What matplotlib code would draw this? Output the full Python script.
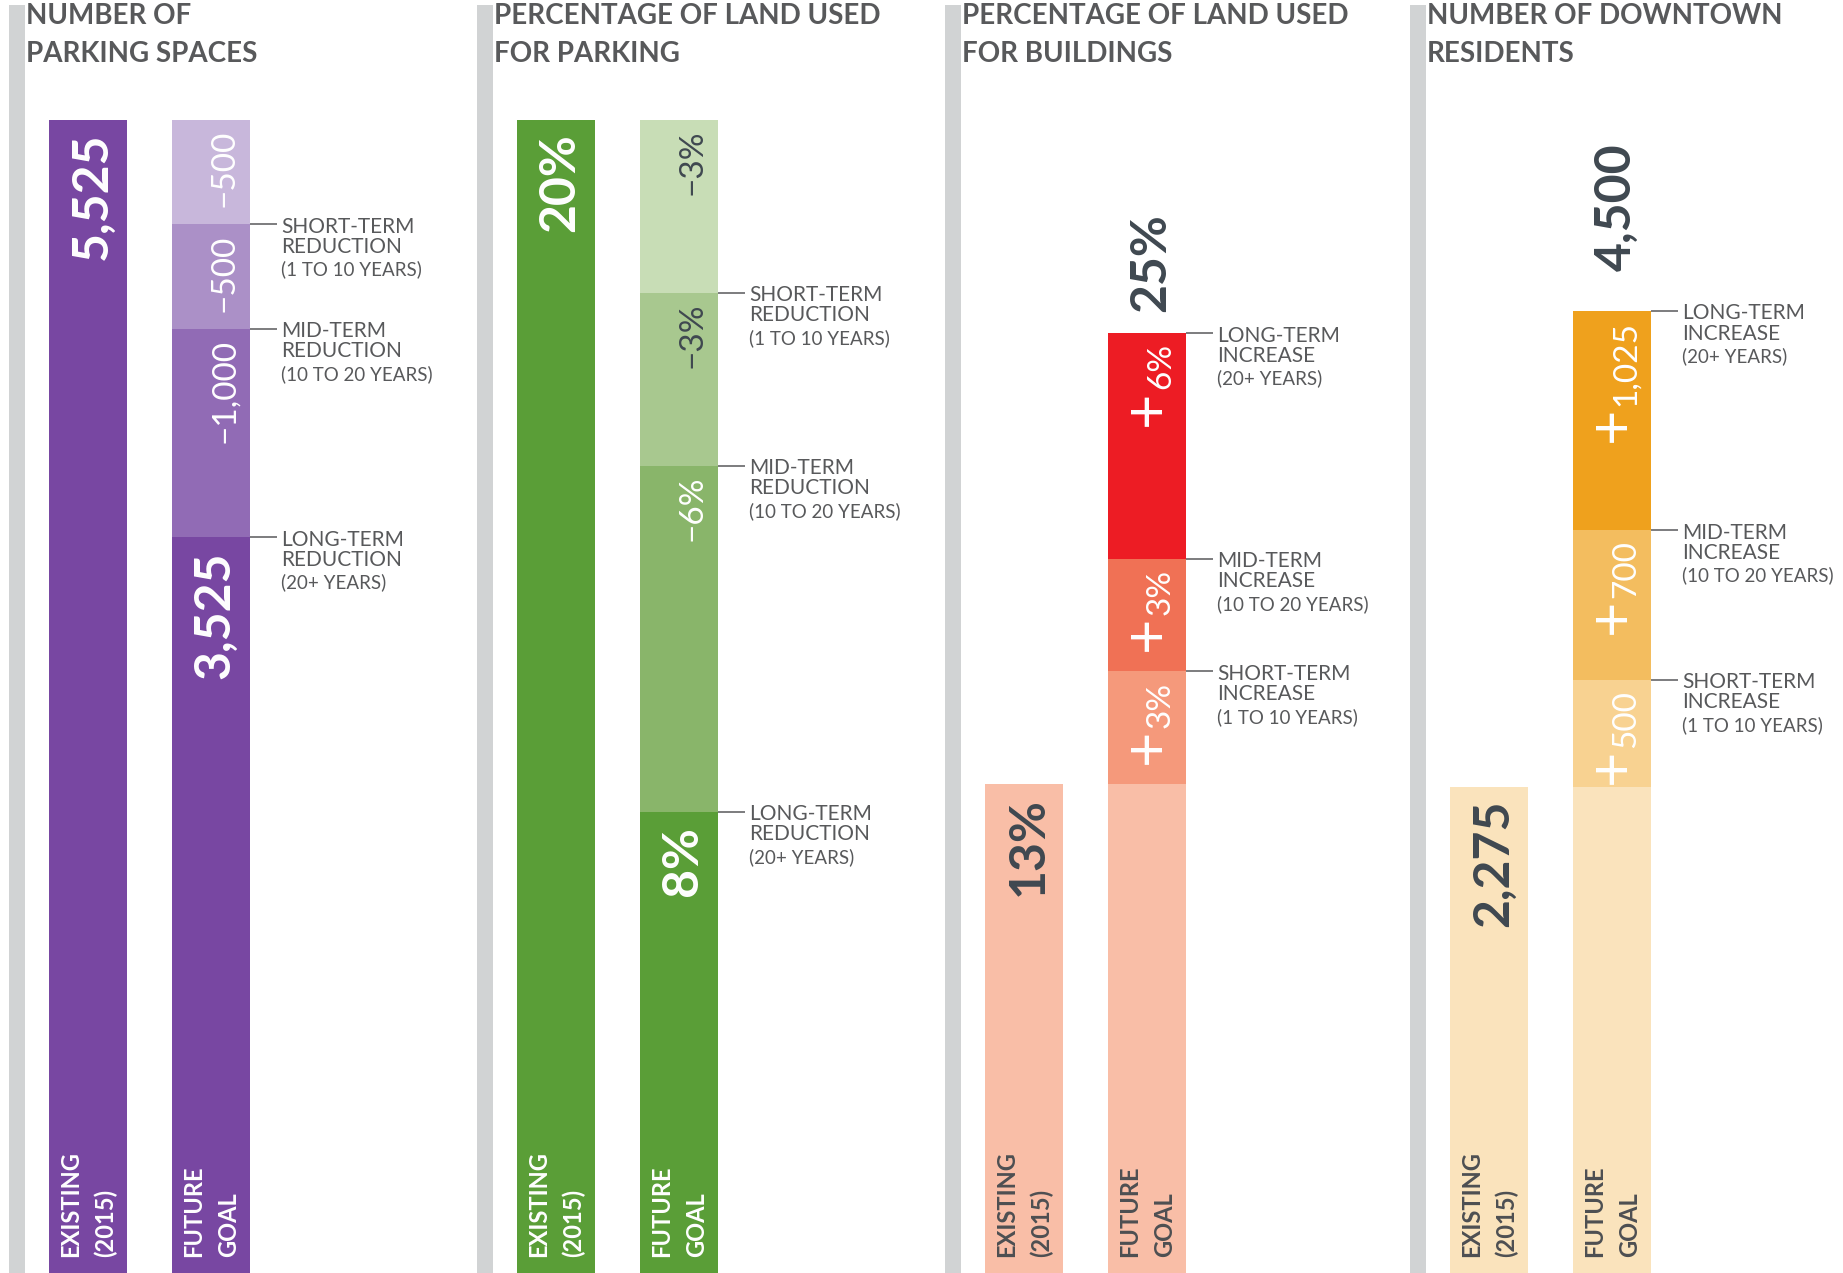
import matplotlib.pyplot as plt
from matplotlib.patches import Rectangle

plt.rcParams['font.family'] = ['Lato', 'DejaVu Sans']

W, H = 1843, 1273

# ---- data ----
bar_names = ['EXISTING\n(2015)', 'FUTURE\nGOAL']

titles = ['NUMBER OF\nPARKING SPACES',
          'PERCENTAGE OF LAND USED\nFOR PARKING',
          'PERCENTAGE OF LAND USED\nFOR BUILDINGS',
          'NUMBER OF DOWNTOWN\nRESIDENTS']

# future bar = goal base + steps stacked bottom -> top
parking_existing = 5525
parking_goal = 3525
parking_steps = [1000, 500, 500]
parking_step_text = ['\u22121,000', '\u2212500', '\u2212500']

parkland_existing = 20
parkland_goal = 8
parkland_steps = [6, 3, 3]
parkland_step_text = ['\u22126%', '\u22123%', '\u22123%']

buildings_existing = 13
buildings_base = 13
buildings_steps = [3, 3, 6]
buildings_step_text = ['3%', '3%', '6%']
buildings_goal = 25

residents_existing = 2275
residents_base = 2275
residents_steps = [500, 700, 1025]
residents_step_text = ['500', '700', '1,025']
residents_goal = 4500

reduction_terms = [('LONG-TERM', 'REDUCTION', '(20+ YEARS)'),
                   ('MID-TERM', 'REDUCTION', '(10 TO 20 YEARS)'),
                   ('SHORT-TERM', 'REDUCTION', '(1 TO 10 YEARS)')]
increase_terms = [('SHORT-TERM', 'INCREASE', '(1 TO 10 YEARS)'),
                  ('MID-TERM', 'INCREASE', '(10 TO 20 YEARS)'),
                  ('LONG-TERM', 'INCREASE', '(20+ YEARS)')]

# ---- style ----
WHITE = 'white'
DARK = '#3f4850'
GREY_TXT = '#58595b'
GREY_BAR = '#d1d3d4'

panels = [
    dict(gray=9, ymax=6100, title=titles[0], existing=parking_existing, base=parking_goal,
         steps=parking_steps, step_text=parking_step_text, kind='reduction',
         existing_text='5,525', base_text='3,525', total_text=None,
         colors=['#7847a2', '#916bb5', '#ab90c7', '#c8b7db'],
         step_colors=[WHITE, WHITE, WHITE], main_color=WHITE, name_color=WHITE),
    dict(gray=477, ymax=22.08, title=titles[1], existing=parkland_existing, base=parkland_goal,
         steps=parkland_steps, step_text=parkland_step_text, kind='reduction',
         existing_text='20%', base_text='8%', total_text=None,
         colors=['#5a9e37', '#89b56a', '#a8c88f', '#c8ddb6'],
         step_colors=[WHITE, DARK, DARK], main_color=WHITE, name_color=WHITE),
    dict(gray=945, ymax=33.86, title=titles[2], existing=buildings_existing, base=buildings_base,
         steps=buildings_steps, step_text=buildings_step_text, kind='increase',
         existing_text='13%', base_text=None, total_text='25%', total_gap=21,
         colors=['#f9bea7', '#f5997b', '#f07155', '#ed1c24'],
         step_colors=[WHITE, WHITE, WHITE], main_color=DARK, name_color='#4d4f52'),
    dict(gray=1410, ymax=5955, title=titles[3], existing=residents_existing, base=residents_base,
         steps=residents_steps, step_text=residents_step_text, kind='increase',
         existing_text='2,275', base_text=None, total_text='4,500', total_gap=40,
         colors=['#fae3bc', '#f8d291', '#f3bd5f', '#efa11d'],
         step_colors=[WHITE, WHITE, WHITE], main_color=DARK, name_color='#4d4f52'),
]

BAR_PX = 78
PITCH_PX = 123
bw = BAR_PX / PITCH_PX


def pt(p):
    # pixels -> points at 100 dpi
    return p * 0.72


fig = plt.figure(figsize=(W / 100, H / 100), dpi=100)

for p in panels:
    gl = p['gray']
    fig.add_artist(Rectangle((gl / W, 0), 16 / W, 1 - 5 / H, transform=fig.transFigure,
                             color=GREY_BAR, lw=0))
    fig.text((gl + 17) / W, 1 - 3 / H, p['title'], ha='left', va='top', fontsize=20,
             fontweight='bold', color=GREY_TXT, linespacing=1.55)

    ax = fig.add_axes([(gl + 40) / W, 0, (BAR_PX + PITCH_PX) / W, 1])
    ax.set_xlim(-bw / 2, 1 + bw / 2)
    ax.set_ylim(0, p['ymax'])
    ax.axis('off')

    ax.bar(0, p['existing'], width=bw, color=p['colors'][0], lw=0)
    ax.bar(1, p['base'], width=bw, color=p['colors'][0], lw=0)
    tops = []
    bottom = p['base']
    for v, c in zip(p['steps'], p['colors'][1:]):
        ax.bar(1, v, bottom=bottom, width=bw, color=c, lw=0)
        bottom += v
        tops.append(bottom)

    big = dict(textcoords='offset points', rotation=90, ha='center', fontsize=36,
               fontweight='bold')
    ax.annotate(p['existing_text'], xy=(0, p['existing']), xytext=(pt(4), -pt(13)),
                va='top', color=p['main_color'], **big)
    if p['base_text']:
        ax.annotate(p['base_text'], xy=(1, p['base']), xytext=(pt(4), -pt(14)),
                    va='top', color=WHITE, **big)
    if p['total_text']:
        ax.annotate(p['total_text'], xy=(1, tops[-1]), xytext=(pt(4), pt(p['total_gap'])),
                    va='bottom', color=DARK, **big)

    # step values
    for top, txt, c in zip(tops, p['step_text'], p['step_colors']):
        t = ax.annotate(txt, xy=(1, top), xytext=(pt(14), -pt(10)), textcoords='offset points',
                        rotation=90, ha='center', va='top', fontsize=24, color=c)
        if p['kind'] == 'increase':
            ax.annotate('+', xy=(0.5, 0), xycoords=t, xytext=(-pt(14), -pt(1)),
                        textcoords='offset points', rotation=90, ha='center', va='top',
                        fontsize=44, color=c)

    # leader labels
    if p['kind'] == 'reduction':
        ys = [p['base']] + tops[:-1]
        terms = reduction_terms
    else:
        ys = tops
        terms = increase_terms
    x0 = 1 + bw / 2
    for y, lines in zip(ys, terms):
        ax.plot([x0, x0 + 27 / PITCH_PX], [y, y], color=GREY_TXT, lw=1.1, clip_on=False,
                solid_capstyle='butt')
        for line, dy, fs in zip(lines, [8.4, 28.6, 51.2], [15, 15, 13.5]):
            ax.annotate(line, xy=(x0, y), xytext=(pt(31), -pt(dy)), textcoords='offset points',
                        ha='left', va='baseline', fontsize=fs, color=GREY_TXT)

    # bar names at the bottom
    for i, name in enumerate(bar_names):
        ax.annotate(name, xy=(i, 0), xytext=(0, pt(16)), textcoords='offset points',
                    rotation=90, ha='center', va='bottom', multialignment='left',
                    fontsize=17, fontweight='bold', color=p['name_color'], linespacing=1.6)

fig.savefig('out.png', dpi=100)
